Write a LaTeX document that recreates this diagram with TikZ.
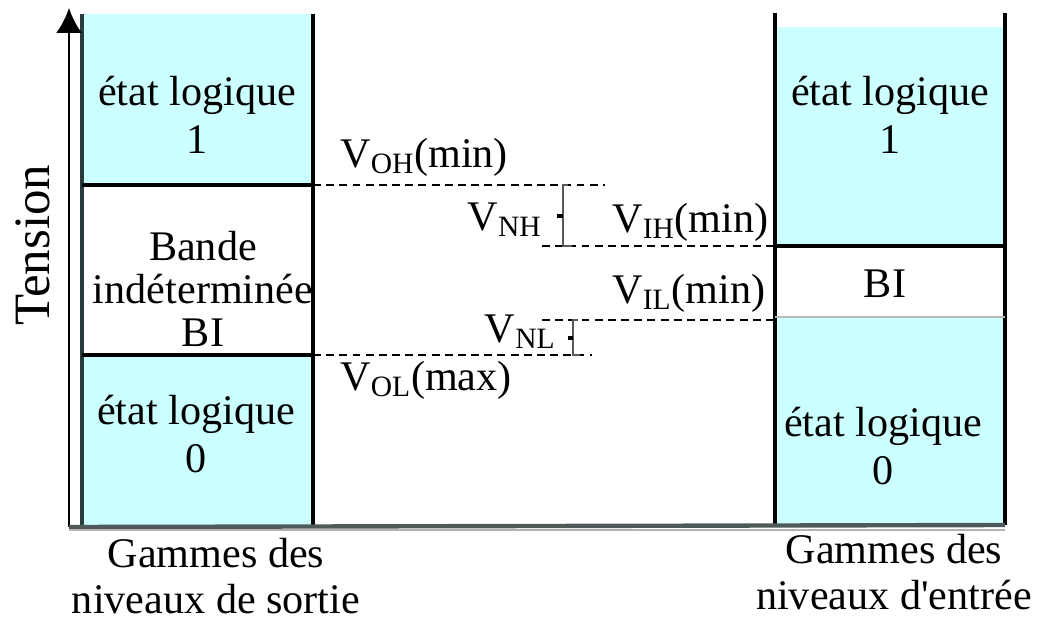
\documentclass[tikz,border=0pt]{standalone}
\usepackage{fontspec}
\setmainfont{Liberation Serif}
\usetikzlibrary{arrows.meta, positioning}
\definecolor{zonecyan}{RGB}{204,255,255}
\definecolor{axisgray}{RGB}{78,90,90}
\definecolor{bordteal}{RGB}{40,60,60}

\begin{document}
\begin{tikzpicture}[x=0.02cm, y=-0.02cm, >={Latex[length=0.5cm, width=0.52cm]},
  lbl/.style={font=\fontsize{24}{27}\selectfont, align=center, inner sep=0pt},
  bord/.style={line width=2pt},
  niveau/.style={line width=1.3pt, dash pattern=on 4.5pt off 3pt},
  ecart/.style={line width=1.5pt, gray!70!black}]
  \useasboundingbox (0,0) rectangle (1037,622);

  % gammes de sortie
  \fill[zonecyan] (82,14) rectangle (313,525);
  \fill[white] (82,185) rectangle (313,355);
  \draw[bord, bordteal] (82,14) -- (82,525);
  \draw[bord] (313,14) -- (313,525);
  \draw[bord] (82,185) coordinate (OHg) -- (313,185) coordinate (OHd);
  \draw[bord] (82,355) coordinate (OLg) -- (313,355) coordinate (OLd);

  % gammes d'entree
  \fill[zonecyan] (775,27) rectangle (1005,525);
  \fill[white] (775,246) rectangle (1005,317);
  \draw[bord] (775,13) -- (775,525);
  \draw[bord] (1005,13) -- (1005,525);
  \draw[bord] (775,246) coordinate (IHd) -- (1005,246);
  \draw[line width=1.2pt, gray!55] (775,317) coordinate (ILd) -- (1005,317);

  % axes
  \draw[->, line width=1.5pt] (69,527) coordinate (O) -- (69,8);
  \draw[line width=2.5pt, axisgray] (O) -- (1005,525);
  \draw[line width=1.3pt, gray!60] (69,530) -- (1005,530);
  \node[rotate=90, inner sep=0pt, font=\fontsize{29}{32}\selectfont] (tension) at (33,245) {Tension};

  % niveaux
  \coordinate (OHf) at (605,185);
  \coordinate (IHg) at (542,246);
  \coordinate (ILg) at (542,320);
  \coordinate (OLf) at (592,355);
  \draw[niveau] (OHd) -- (OHf);
  \draw[niveau] (IHg) -- (IHd);
  \draw[niveau] (ILg) -- (ILd |- ILg);
  \draw[niveau] (OLd) -- (OLf);

  % marges de bruit
  \draw[ecart] (568,185) -- (563,185) -- (563,246) -- (572,246);
  \draw[line width=2pt] (563,216) -- (557,216);
  \draw[ecart] (578,320) -- (573,320) -- (573,355) -- (580,355);
  \draw[line width=2pt] (573,338) -- (568,338);

  \node[lbl, anchor=base west] (VOH) at (340,167) {V\textsubscript{OH}(min)};
  \node[lbl, anchor=base east] (VNH) at (542,230) {V\textsubscript{NH}};
  \node[lbl, anchor=base west] (VIH) at (612,232) {V\textsubscript{IH}(min)};
  \node[lbl, anchor=base west] (VIL) at (612,303) {V\textsubscript{IL}(min)};
  \node[lbl, anchor=base east] (VNL) at (556,342) {V\textsubscript{NL}};
  \node[lbl, anchor=base west] (VOL) at (340,390) {V\textsubscript{OL}(max)};

  % textes des zones
  \node[lbl] (s1) at (197,115) {état logique\\1};
  \node[lbl, font=\fontsize{24}{24.5}\selectfont] (sbi) at (203,289) {Bande\\indéterminée\\BI};
  \node[lbl] (s0) at (196,434) {état logique\\0};
  \node[lbl] (e1) at (890,115) {état logique\\1};
  \node[lbl] (ebi) at (885,284) {BI};
  \node[lbl] (e0) at (883,446) {état logique\\0};
  \node[lbl, font=\fontsize{24}{26}\selectfont] (sortie) at (216,576) {Gammes des\\niveaux de sortie};
  \node[lbl, font=\fontsize{24}{26}\selectfont] (entree) at (894,572) {Gammes des\\niveaux d\textquotesingle entrée};
\end{tikzpicture}
\end{document}
